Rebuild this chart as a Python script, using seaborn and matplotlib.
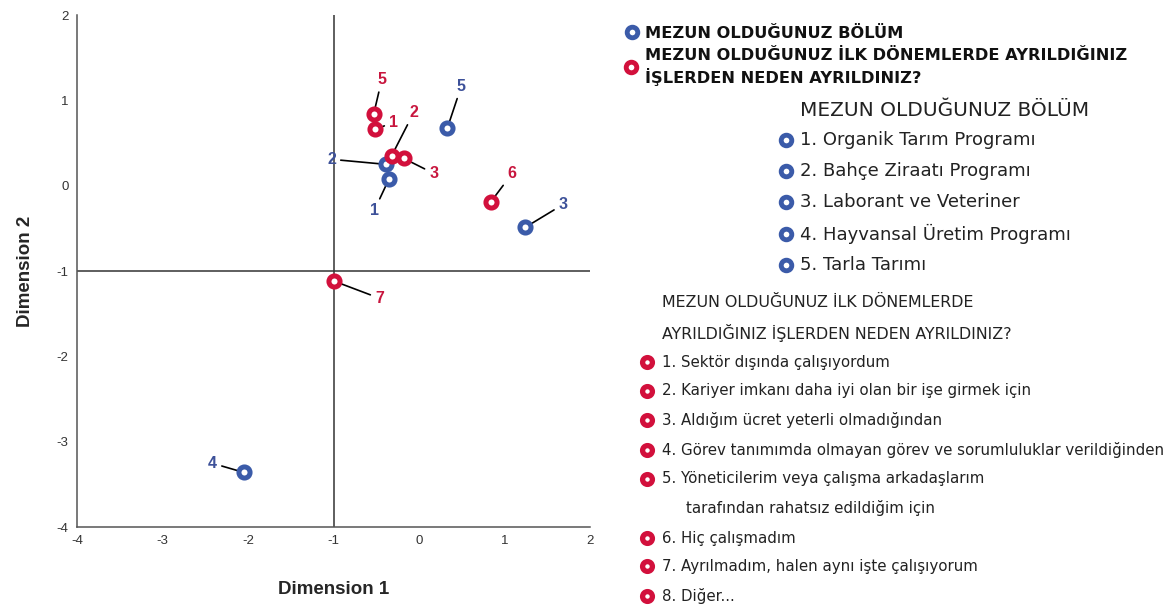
import matplotlib
matplotlib.use("Agg")
import matplotlib.pyplot as plt
import seaborn as sns
import pandas as pd

# ---------------- data ----------------
bolum_labels = ["1", "2", "3", "4", "5"]
bolum_x = [-0.35, -0.39, 1.24, -2.05, 0.33]
bolum_y = [0.08, 0.25, -0.49, -3.36, 0.67]

neden_labels = ["1", "2", "3", "5", "6", "7"]
neden_x = [-0.51, -0.32, -0.18, -0.53, 0.84, -0.99]
neden_y = [0.66, 0.35, 0.32, 0.84, -0.19, -1.12]

x_ticks = [-4, -3, -2, -1, 0, 1, 2]
y_ticks = [-4, -3, -2, -1, 0, 1, 2]

legend_group_1 = "MEZUN OLDUĞUNUZ BÖLÜM"
legend_group_2 = ["MEZUN OLDUĞUNUZ İLK DÖNEMLERDE AYRILDIĞINIZ", "İŞLERDEN NEDEN AYRILDINIZ?"]
bolum_title = "MEZUN OLDUĞUNUZ BÖLÜM"
bolum_items = ["1. Organik Tarım Programı", "2. Bahçe Ziraatı Programı",
               "3. Laborant ve Veteriner", "4. Hayvansal Üretim Programı",
               "5. Tarla Tarımı"]
neden_title = ["MEZUN OLDUĞUNUZ İLK DÖNEMLERDE", "AYRILDIĞINIZ İŞLERDEN NEDEN AYRILDINIZ?"]
neden_items = ["1. Sektör dışında çalışıyordum",
               "2. Kariyer imkanı daha iyi olan bir işe girmek için",
               "3. Aldığım ücret yeterli olmadığından",
               "4. Görev tanımımda olmayan görev ve sorumluluklar verildiğinden",
               "5. Yöneticilerim veya çalışma arkadaşlarım",
               "6. Hiç çalışmadım",
               "7. Ayrılmadım, halen aynı işte çalışıyorum",
               "8. Diğer..."]
neden_item5_cont = "tarafından rahatsız edildiğim için"

# ---------------- style ----------------
BLUE = "#3B5BA9"
RED = "#D2103C"
BLUE_TXT = "#3D5199"
RED_TXT = "#C8163E"

sns.set_style("white")
plt.rcParams["font.family"] = ["Liberation Sans", "DejaVu Sans"]

W, H = 1174, 605
fig = plt.figure(figsize=(W / 100, H / 100), dpi=100)
ax = fig.add_axes([77 / W, 1 - 527 / H, (590 - 77) / W, (527 - 15) / H])

df_b = pd.DataFrame({"x": bolum_x, "y": bolum_y, "lab": bolum_labels})
df_n = pd.DataFrame({"x": neden_x, "y": neden_y, "lab": neden_labels})

ring = dict(marker="o", s=64, linewidth=3.6, facecolor="white", zorder=5, legend=False)
sns.scatterplot(data=df_b, x="x", y="y", ax=ax, edgecolor=BLUE, **ring)
sns.scatterplot(data=df_n, x="x", y="y", ax=ax, edgecolor=RED, **ring)

ax.axvline(-1, color="#333333", lw=1.1, zorder=1)
ax.axhline(-1, color="#333333", lw=1.1, zorder=1)

# label offsets in pixels (dx, dy up-positive)
b_off = {"1": (-15, -32), "2": (-54, 5), "3": (38, 23), "4": (-31, 9), "5": (14, 42)}
n_off = {"1": (18, 7), "2": (22, 43), "3": (30, -15), "5": (8, 34), "6": (21, 28), "7": (45, -17)}

arrow = dict(arrowstyle="-", color="black", lw=1.2, shrinkA=1, shrinkB=0)
for lab, x, y in zip(bolum_labels, bolum_x, bolum_y):
    ax.annotate(lab, (x, y), xytext=b_off[lab], textcoords="offset pixels",
                ha="center", va="center", color=BLUE_TXT, fontsize=11.5,
                fontweight="bold", arrowprops=arrow, zorder=3)
for lab, x, y in zip(neden_labels, neden_x, neden_y):
    ax.annotate(lab, (x, y), xytext=n_off[lab], textcoords="offset pixels",
                ha="center", va="center", color=RED_TXT, fontsize=11.5,
                fontweight="bold", arrowprops=arrow, zorder=3)

ax.set_xlim(-4, 2)
ax.set_ylim(-4, 2)
ax.set_xticks(x_ticks)
ax.set_yticks(y_ticks)
ax.set_xticklabels([str(t) for t in x_ticks])
ax.set_yticklabels([str(t) for t in y_ticks])
ax.tick_params(length=0, labelsize=9.5, colors="#333333", pad=6)
for s in ["top", "right"]:
    ax.spines[s].set_visible(False)
for s in ["left", "bottom"]:
    ax.spines[s].set_color("#555555")
    ax.spines[s].set_linewidth(1.1)
ax.set_xlabel("Dimension 1", fontsize=13.5, fontweight="bold", labelpad=24)
ax.set_ylabel("Dimension 2", fontsize=13.5, fontweight="bold", labelpad=16)

# ---------------- legend (overlay in pixel coords) ----------------
lg = fig.add_axes([0, 0, 1, 1], zorder=10)
lg.set_xlim(0, W)
lg.set_ylim(H, 0)
lg.axis("off")
lg.patch.set_alpha(0)

leg_font = ["DejaVu Sans"]
lg.scatter([632], [32], s=58, facecolor="white", edgecolor=BLUE, linewidth=3.5)
lg.text(645, 33, legend_group_1, fontsize=11.7, fontweight="bold", family=leg_font,
        va="center", ha="left", color="#111111")
lg.scatter([631], [67], s=58, facecolor="white", edgecolor=RED, linewidth=3.5)
lg.text(645, 56, legend_group_2[0], fontsize=11.7, fontweight="bold", family=leg_font,
        va="center", ha="left", color="#111111")
lg.text(645, 77, legend_group_2[1], fontsize=11.7, fontweight="bold", family=leg_font,
        va="center", ha="left", color="#111111")

lg.text(800, 110, bolum_title, fontsize=14.5, family=leg_font, va="center", ha="left",
        color="#222222")
for i, item in enumerate(bolum_items):
    yy = 140 + i * 31.2
    lg.scatter([786], [yy], s=58, facecolor="white", edgecolor=BLUE, linewidth=3.5)
    lg.text(800, yy, item, fontsize=13, family=leg_font, va="center", ha="left",
            color="#222222")

lg.text(662, 302, neden_title[0], fontsize=11.4, family=leg_font, va="center", ha="left",
        color="#222222")
lg.text(662, 333, neden_title[1], fontsize=11.4, family=leg_font, va="center", ha="left",
        color="#222222")
neden_rows = [362, 391, 420, 450, 479, 538, 566, 596]
for yy, item in zip(neden_rows, neden_items):
    lg.scatter([647], [yy], s=50, facecolor="white", edgecolor=RED, linewidth=3.8)
    lg.text(662, yy, item, fontsize=10.8, family=leg_font, va="center", ha="left",
            color="#222222")
lg.text(686, 508, neden_item5_cont, fontsize=10.8, family=leg_font, va="center", ha="left",
        color="#222222")

fig.savefig("out.png", dpi=100)
